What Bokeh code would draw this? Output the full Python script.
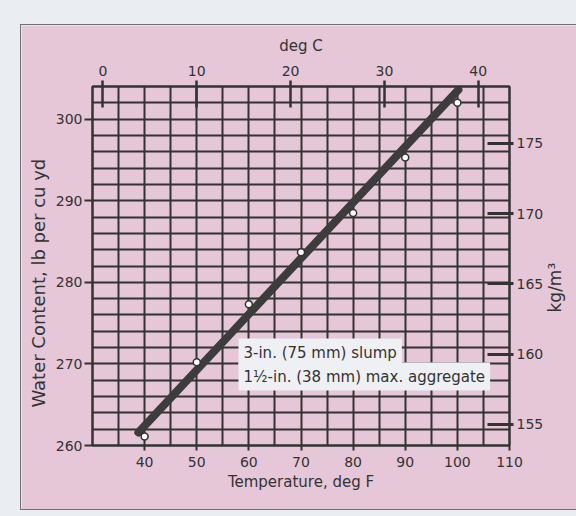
import math
from bokeh.plotting import figure
from bokeh.models import (LinearAxis, Range1d, FixedTicker, Label,
                          GlobalInlineStyleSheet, InlineStyleSheet)
from bokeh.embed import file_html
from bokeh.resources import INLINE

# ---- data ----
temps_f = [40, 50, 60, 70, 80, 90, 100]
water_lb = [261.1, 270.2, 277.3, 283.7, 288.5, 295.3, 302.0]
fit_temp_f = [38.8, 100.2]
fit_water_lb = [261.6, 303.6]

f_ticks = [40, 50, 60, 70, 80, 90, 100, 110]
lb_ticks = [260, 270, 280, 290, 300]
c_ticks = [0, 10, 20, 30, 40]
kg_ticks = [155, 160, 165, 170, 175]
grid_f = [30, 35, 40, 45, 50, 55, 60, 65, 70, 75, 80, 85, 90, 95, 100, 105, 110]
grid_lb = [260, 262, 264, 266, 268, 270, 272, 274, 276, 278, 280, 282, 284, 286,
           288, 290, 292, 294, 296, 298, 300, 302, 304]
note_lines = ["3-in. (75 mm) slump", "1\u00bd-in. (38 mm) max. aggregate"]

# ---- layout constants (page px) ----
X0, X1 = 30, 110
Y0, Y1 = 260, 304
PANEL_L, PANEL_T, PANEL_R, PANEL_B = 21, 25, 572, 509
FL, FT, FW, FH = 92, 86, 417, 359      # frame left/top/width/height on page

PINK = "#e5c7d7"
OUTER = "#eaedf2"
INK = "#333333"
FONT = "DejaVu Sans"
NBSP = "\u00a0"


def px_x(px):
    return X0 + (px - FL) * (X1 - X0) / FW


def px_y(py):
    return Y1 - (py - FT) * (Y1 - Y0) / FH


W = PANEL_R - PANEL_L
H = PANEL_B - PANEL_T
bl = FL - PANEL_L
bt = FT - PANEL_T
br = W - bl - FW
bb = H - bt - FH

p = figure(frame_width=FW, frame_height=FH, x_range=(X0, X1), y_range=(Y0, Y1),
           output_backend="svg", toolbar_location=None,
           min_border_left=bl, min_border_top=bt, min_border_right=br, min_border_bottom=bb,
           margin=(PANEL_T, 0, 0, PANEL_L))
p.stylesheets = [
    GlobalInlineStyleSheet(css="html, body { background-color: %s; margin: 0; }" % OUTER),
    InlineStyleSheet(css=":host { box-shadow: 0 0 0 1px #707070; }"),
]
p.border_fill_color = PINK
p.background_fill_color = PINK
p.outline_line_color = INK
p.outline_line_width = 2

KG0, KG1 = 153.505, 179.057
p.extra_x_ranges = {"degC": Range1d(start=(X0 - 32) / 1.8, end=(X1 - 32) / 1.8)}
p.extra_y_ranges = {"kg": Range1d(start=KG0, end=KG1)}

# grids
p.xgrid.ticker = FixedTicker(ticks=grid_f)
p.ygrid.ticker = FixedTicker(ticks=grid_lb)
for g in (p.xgrid, p.ygrid):
    g.grid_line_color = INK
    g.grid_line_width = 2
    g.grid_line_alpha = 1


def style_axis(ax, label_size="15px"):
    ax.axis_line_color = INK
    ax.axis_line_width = 2
    ax.major_tick_line_color = INK
    ax.minor_tick_line_color = None
    ax.major_label_text_font = FONT
    ax.major_label_text_font_size = "14px"
    ax.major_label_text_color = INK
    ax.axis_label_text_font = FONT
    ax.axis_label_text_font_size = label_size
    ax.axis_label_text_font_style = "normal"
    ax.axis_label_text_color = INK


# bottom axis
xa = p.xaxis[0]
style_axis(xa)
xa.ticker = FixedTicker(ticks=f_ticks)
xa.axis_label = "Temperature, deg F"
xa.major_tick_out = 5
xa.major_tick_in = 0
xa.major_label_standoff = 6
xa.axis_label_standoff = 3
xa.major_tick_line_width = 2

# left axis
ya = p.yaxis[0]
style_axis(ya, "18px")
ya.ticker = FixedTicker(ticks=lb_ticks)
ya.axis_label = "Water Content, lb per cu yd" + NBSP * 6
ya.major_tick_out = 8
ya.major_tick_in = 0
ya.major_label_standoff = 2
ya.axis_label_standoff = 4
ya.major_tick_line_width = 2

# top axis (deg C)
ta = LinearAxis(x_range_name="degC", ticker=FixedTicker(ticks=c_ticks), axis_label="deg C")
style_axis(ta)
ta.major_tick_out = 6
ta.major_tick_in = 21
ta.major_tick_line_width = 2.5
ta.major_label_standoff = 5
ta.axis_label_standoff = 8
p.add_layout(ta, "above")

# right axis (kg/m3): ticks and labels
ra = LinearAxis(y_range_name="kg", ticker=FixedTicker(ticks=kg_ticks))
style_axis(ra)
ra.major_tick_out = 4
ra.major_tick_in = 22
ra.major_tick_line_width = 3
ra.major_label_standoff = 3
p.add_layout(ra, "right")

# right axis title drawn as a single rotated tick label (reads bottom-to-top)
ANCHOR_PY = 312
kg_anchor = 175 - (ANCHOR_PY - 143) * (175 - 155) / (424 - 143)
rt = LinearAxis(y_range_name="kg", ticker=FixedTicker(ticks=[kg_anchor]),
                major_label_overrides={kg_anchor: "kg/m\u00b3"})
style_axis(rt)
rt.major_label_text_font_size = "17px"
rt.axis_line_color = None
rt.major_tick_line_color = None
rt.major_tick_out = 0
rt.major_tick_in = 0
rt.major_label_standoff = 9
rt.major_label_orientation = math.pi / 2
p.add_layout(rt, "right")

# fitted line and data points
p.line(fit_temp_f, fit_water_lb, line_width=8, line_color="#3c3c3c", line_cap="round")
p.scatter(temps_f, water_lb, marker="circle", size=7, fill_color="white",
          line_color=INK, line_width=1.5)

# note
for i, t in enumerate(note_lines):
    p.add_layout(Label(x=px_x(238), y=px_y(352 + 24 * i), text=t, text_align="left",
                       text_baseline="middle", text_font=FONT, text_font_size="15px",
                       text_color=INK, background_fill_color="#eef0f3", background_fill_alpha=1,
                       padding=5))

open("out.html", "w").write(file_html(p, INLINE))
